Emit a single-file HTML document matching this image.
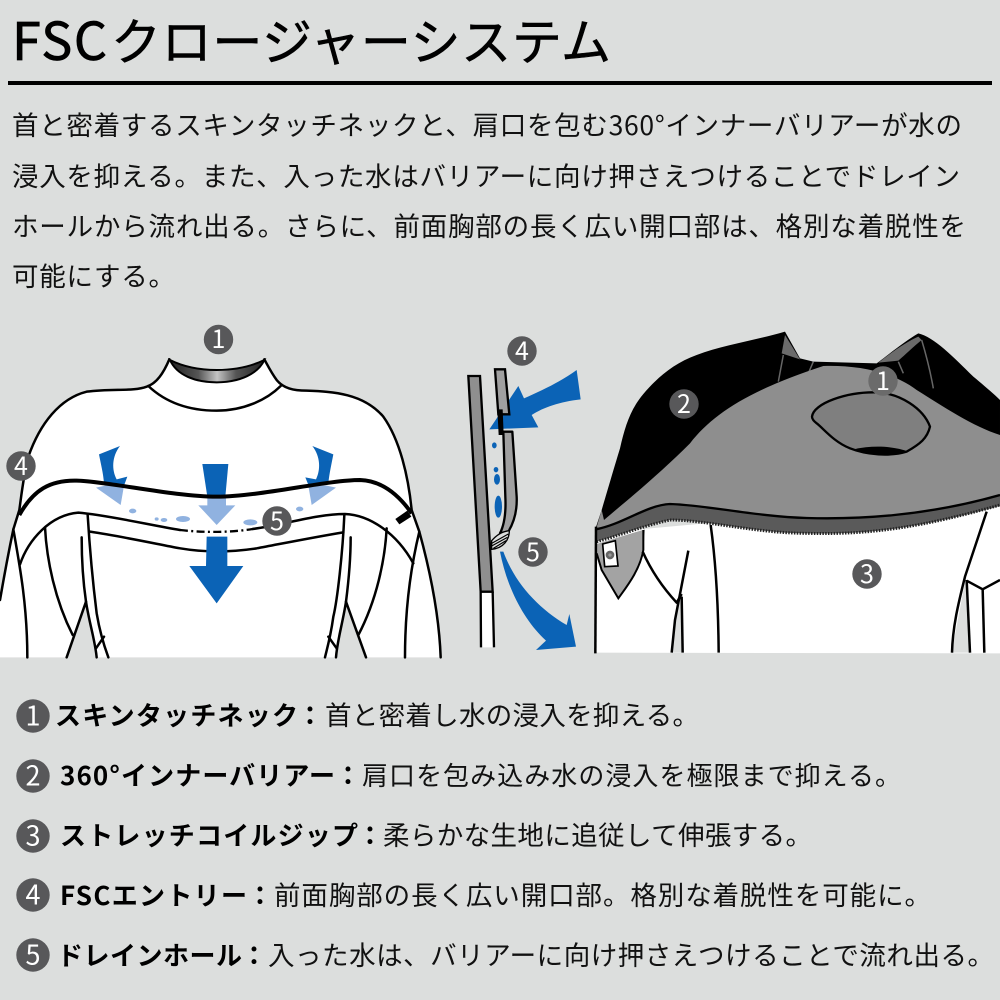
<!DOCTYPE html>
<html lang="ja">
<head>
<meta charset="utf-8">
<title>FSCクロージャーシステム</title>
<style>
html,body{margin:0;padding:0;background:#dcdedd}
svg{display:block}
text{font-family:"Liberation Sans","Noto Sans CJK JP",sans-serif;fill:#111}
.j{font-family:"Noto Sans CJK JP","Liberation Sans",sans-serif}
.b{font-weight:700;fill:#000}
.n{font-family:"Noto Sans CJK JP","Liberation Sans",sans-serif;fill:#fff;text-anchor:middle;font-size:25px}
</style>
</head>
<body>
<svg width="1000" height="1000" viewBox="0 0 1000 1000" xmlns="http://www.w3.org/2000/svg">
<defs>
<linearGradient id="ng" x1="0" x2="1" y1="0" y2="0">
<stop offset="0" stop-color="#222"/><stop offset=".3" stop-color="#555"/><stop offset=".5" stop-color="#c4c4c4"/><stop offset=".7" stop-color="#555"/><stop offset="1" stop-color="#222"/>
</linearGradient>
</defs>
<rect width="1000" height="1000" fill="#dcdedd"/>

<!-- Title -->
<text class="j" x="12" y="60" font-size="52" textLength="95" lengthAdjust="spacing" style="fill:#000;stroke:#000;stroke-width:.8">FSC</text>
<text class="j" x="111" y="60" font-size="50" textLength="500" lengthAdjust="spacing" style="fill:#000;stroke:#000;stroke-width:.6">クロージャーシステム</text>
<rect x="8" y="81" width="984" height="4" fill="#000"/>

<!-- Body -->
<g class="j" font-size="26.5">
<text class="j" x="12" y="135" textLength="950" lengthAdjust="spacing">首と密着するスキンタッチネックと、肩口を包む360°インナーバリアーが水の</text>
<text class="j" x="12" y="186" textLength="948" lengthAdjust="spacing">浸入を抑える。また、入った水はバリアーに向け押さえつけることでドレイン</text>
<text class="j" x="12" y="236" textLength="954" lengthAdjust="spacing">ホールから流れ出る。さらに、前面胸部の長く広い開口部は、格別な着脱性を</text>
<text class="j" x="12" y="286" textLength="163" lengthAdjust="spacing">可能にする。</text>
</g>

<!-- Left figure -->
<g transform="translate(0,320) scale(.33333)">
<path fill="#fff" d="M508,118 C490,160 470,190 440,200 C400,215 340,205 260,215 C180,235 120,310 85,410 C70,470 65,520 58,570 L40,628 L0,840 L0,1012 L200,1012 L258,845 L290,1012 L1008,1012 L1038,845 L1098,1012 L1322,1012 C1318,900 1295,770 1258,635 L1235,570 C1225,470 1200,360 1150,290 C1090,220 1000,215 920,212 C880,212 850,205 830,180 C815,160 805,140 793,118 C700,170 600,170 508,118 Z"/>
<path fill="url(#ng)" stroke="#000" stroke-width="6" d="M510,120 C590,160 710,160 793,120 C775,160 720,187 650,187 C585,187 530,165 510,120 Z"/>
<g fill="none" stroke="#000" stroke-width="7.5" stroke-linecap="round" stroke-linejoin="round">
<path d="M508,118 C490,160 470,190 440,200 C400,215 340,205 260,215 C180,235 120,310 85,410 C70,470 65,520 58,570 L40,628 C25,700 12,770 0,840"/>
<path d="M793,118 C805,140 815,160 830,180 C850,205 880,212 920,212 C1000,215 1090,220 1150,290 C1200,360 1225,470 1235,570 L1258,635 C1295,770 1318,900 1322,1012"/>
<path d="M445,198 C500,250 570,272 650,272 C730,272 800,240 842,198"/>
<path d="M40,628 C60,740 82,860 82,1012"/>
<path d="M1258,635 C1235,730 1215,850 1215,1012"/>
<path d="M60,733 C85,660 150,585 235,578 C320,585 450,615 540,630"/>
<path d="M758,627 C850,615 950,582 1035,582 C1110,585 1190,640 1240,730"/>
<path d="M270,635 C370,650 470,672 540,685 C610,697 690,697 770,685 C860,668 950,650 1030,637"/>
<path d="M263,585 C270,700 280,800 290,880 C300,940 315,985 325,1012"/>
<path d="M245,652 C245,730 250,790 258,845 C268,910 285,960 290,1012"/>
<path d="M288,985 L312,950"/>
<path d="M1033,585 C1028,700 1012,840 1000,890 C992,950 980,990 975,1012"/>
<path d="M1052,652 C1052,730 1045,790 1038,845 C1028,910 1012,960 1008,1012"/>
<path d="M985,950 L1010,985"/>
<path d="M135,622 C140,720 165,840 218,945"/>
<path d="M1160,625 C1155,720 1130,840 1075,945"/>
<path d="M258,845 L200,1012"/>
<path d="M1038,845 L1098,1012"/>
</g>
<path fill="none" stroke="#000" stroke-width="7" stroke-dasharray="24 10 6 10" d="M540,630 C610,638 690,638 758,627"/>
<!-- arrows dark -->
<path fill="#0b63b6" d="M607,432 L685,432 L676,530 L622,530 Z"/>
<path fill="#0b63b6" d="M620,650 L682,650 L682,738 L730,738 L650,850 L568,738 L618,738 Z"/>
<path fill="#0b63b6" d="M297,403 L360,378 C335,410 335,450 350,478 L382,470 L372,497 L312,490 C310,460 302,430 297,403 Z"/>
<path fill="#0b63b6" d="M1000,403 L937,378 C962,410 962,450 948,478 L916,472 L926,497 L985,490 C988,460 995,430 1000,403 Z"/>
<!-- arrows light -->
<path fill="#90b2e0" d="M622,530 L678,530 L678,556 L706,556 L650,615 L595,556 L622,556 Z"/>
<path fill="#90b2e0" d="M288,503 L316,497 L372,497 L362,555 Z"/>
<path fill="#90b2e0" d="M1008,503 L980,497 L925,497 L935,555 Z"/>
<g fill="#90b2e0">
<ellipse cx="398" cy="573" rx="11" ry="7"/><ellipse cx="470" cy="597" rx="6" ry="5"/><ellipse cx="492" cy="600" rx="10" ry="6"/><ellipse cx="549" cy="597" rx="21" ry="9"/><ellipse cx="751" cy="607" rx="21" ry="9"/><ellipse cx="899" cy="567" rx="11" ry="7"/>
</g>
<!-- zip line -->
<path fill="none" stroke="#000" stroke-width="12" d="M58,585 C100,510 150,480 230,482 C330,485 520,530 650,530 C780,530 980,480 1080,480 C1150,482 1200,530 1235,580"/>
<path fill="#000" d="M1186,597 L1222,572 L1234,590 L1198,613 Z"/>
</g>

<!-- Middle figure -->
<g transform="translate(450,320) scale(.33333)">
<path fill="#8f8f8f" stroke="#000" stroke-width="7" d="M55,168 L90,168 L128,815 L92,815 Z"/>
<path fill="#fff" d="M95,818 H126 L129,982 H96 Z"/>
<path fill="none" stroke="#000" stroke-width="7" d="M92,815 H128 M92,815 L93,982 M128,815 L132,982"/>
<path fill="#0b63b6" d="M380,150 L392,238 C330,245 280,262 245,285 L265,322 L118,328 L205,198 L222,235 C280,210 340,180 380,150 Z"/>
<path fill="#a0a0a0" stroke="#000" stroke-width="7" d="M135,148 L165,148 L178,283 L145,283 Z"/>
<path fill="#a0a0a0" stroke="#000" stroke-width="7" stroke-linejoin="round" d="M160,335 L187,335 L200,530 C202,575 190,610 175,635 L150,640 C165,610 168,570 166,530 Z"/>
<path fill="#000" d="M142,268 L158,268 L161,345 L146,345 Z"/>
<path fill="#dcdedd" stroke="#000" stroke-width="4" d="M125,662 C140,645 155,635 178,632 C178,660 160,685 125,688 Z"/>
<path fill="none" stroke="#000" stroke-width="3.5" d="M125,670 L175,642 M125,678 L172,652 M130,685 L168,662"/>
<g fill="#0b63b6">
<ellipse cx="133" cy="376" rx="7" ry="9"/><ellipse cx="138" cy="449" rx="7" ry="8"/><ellipse cx="141" cy="478" rx="9" ry="16"/><ellipse cx="145" cy="560" rx="11" ry="33"/>
<path d="M150,695 L160,695 C195,790 265,865 350,915 L358,882 L378,980 L258,990 L288,962 C220,900 170,800 150,695 Z"/>
</g>
</g>

<!-- Right figure -->
<g transform="translate(590,320) scale(.33333)">
<path fill="#fff" d="M15,640 L1230,530 L1230,1000 L15,998 Z"/>
<path fill="#dcdedd" d="M1128,770 L1085,998 L1138,998 Z"/>
<path fill="#dcdedd" d="M262,848 L245,998 L278,998 L275,830 Z"/>
<path fill="#000" d="M15,630 L35,570 C50,520 70,450 90,385 C105,320 120,270 160,222 C200,175 250,130 320,105 C400,75 500,60 585,35 L630,115 L670,125 L860,130 C900,100 950,60 985,40 C1030,50 1090,110 1150,170 C1180,195 1210,220 1230,240 L1230,345 L600,500 Z"/>
<path fill="#6b6b6b" d="M585,45 L575,100 L630,118 Z"/>
<path fill="#6b6b6b" d="M865,128 C900,100 950,65 985,50 L995,60 C970,80 945,105 925,122 Z"/>
<path fill="none" stroke="#666" stroke-width="4.5" d="M580,105 L565,185 M670,125 L655,160 M995,60 C1010,110 1022,160 1030,205 M925,125 L940,160"/>
<path fill="#8e8e8e" d="M35,570 L42,600 C100,550 200,470 300,370 C370,280 480,210 700,138 C790,135 900,150 980,210 C1060,260 1150,320 1230,345 L1230,525 C1000,590 800,598 650,594 C500,590 350,555 240,552 C170,555 100,610 18,628 Z"/>
<path fill="#5a5a5a" d="M18,628 C100,612 170,555 240,552 C350,555 500,590 650,594 C800,598 1000,590 1230,525 L1230,558 C1000,620 850,645 650,640 C500,640 350,600 240,600 C150,620 80,650 18,665 Z"/>
<path fill="none" stroke="#000" stroke-width="7" d="M18,628 C100,612 170,555 240,552 C350,555 500,590 650,594 C800,598 1000,590 1230,525"/>
<path fill="none" stroke="#222" stroke-width="9" stroke-dasharray="4.5 4" d="M20,665 C80,650 150,620 240,600 C350,600 500,640 650,640 C850,645 1000,620 1230,555"/>
<!-- neck hole -->
<path fill="#7f7f7f" stroke="#000" stroke-width="7" stroke-linejoin="round" d="M666,290 C670,250 770,215 860,217 C930,220 1000,265 1020,320 C1012,355 990,372 950,395 C900,410 830,405 780,385 C730,365 700,325 680,310 C672,303 666,298 666,290 Z"/>
<path fill="#000" d="M790,388 C850,375 910,378 955,395 C900,410 830,405 790,388 Z"/>
<!-- flap -->
<path fill="#a3a3a3" stroke="none" d="M20,672 L165,628 L160,690 C150,750 110,800 85,835 L35,750 L20,700 Z"/>
<path fill="none" stroke="#000" stroke-width="6" d="M160,630 L160,690 C150,750 110,800 85,835 L35,750 L20,700"/>
<path fill="#fff" stroke="#000" stroke-width="5" d="M38,672 L76,662 L84,738 L44,740 Z"/>
<circle cx="60" cy="705" r="13" fill="#666"/><circle cx="60" cy="705" r="5" fill="#999"/>
<g fill="none" stroke="#000" stroke-width="7.5" stroke-linejoin="round">
<path d="M18,620 L16,1000"/>
<path d="M158,695 C185,755 220,805 260,848 L275,822"/>
<path d="M295,692 C280,770 265,850 255,900 L245,998"/>
<path d="M275,830 L278,998"/>
<path d="M362,615 C378,730 385,870 386,998"/>
<path d="M1190,575 C1165,650 1145,710 1125,770 C1105,850 1088,920 1086,998"/>
<path d="M1130,780 L1140,998"/>
<path d="M1130,782 L1178,808 L1230,780"/>
<path d="M1178,808 L1183,998"/>
</g>
</g>

<!-- Diagram callouts -->
<g>
<circle cx="218.5" cy="339.5" r="14.7" fill="#58585a"/><text class="n" x="218.5" y="348">1</text>
<circle cx="21" cy="466" r="14.7" fill="#58585a"/><text class="n" x="21" y="475">4</text>
<circle cx="277" cy="521" r="14.7" fill="#58585a"/><text class="n" x="277" y="530">5</text>
<circle cx="522" cy="351" r="14.7" fill="#58585a"/><text class="n" x="522" y="360">4</text>
<circle cx="533" cy="552" r="14.7" fill="#58585a"/><text class="n" x="533" y="561">5</text>
<circle cx="883" cy="381" r="14.7" fill="#6b6b6b"/><text class="n" x="883" y="390">1</text>
<circle cx="684" cy="404" r="14.7" fill="#58585a"/><text class="n" x="684" y="413">2</text>
<circle cx="867" cy="574" r="14.7" fill="#58585a"/><text class="n" x="867" y="583">3</text>
</g>

<!-- List -->
<g>
<circle cx="33" cy="716" r="16.7" fill="#58585a"/><text class="n" x="33" y="725.5" style="font-size:27px">1</text>
<circle cx="33" cy="776" r="16.7" fill="#58585a"/><text class="n" x="33" y="785.5" style="font-size:27px">2</text>
<circle cx="33" cy="836" r="16.7" fill="#58585a"/><text class="n" x="33" y="845.5" style="font-size:27px">3</text>
<circle cx="33" cy="895" r="16.7" fill="#58585a"/><text class="n" x="33" y="904.5" style="font-size:27px">4</text>
<circle cx="33" cy="955" r="16.7" fill="#58585a"/><text class="n" x="33" y="964.5" style="font-size:27px">5</text>

<text class="j b" x="55" y="725" font-size="26" textLength="243" lengthAdjust="spacing">スキンタッチネック</text>
<text class="j b" x="297" y="725" font-size="26">：</text>
<text class="j" x="325" y="725" font-size="26.5" textLength="374" lengthAdjust="spacing">首と密着し水の浸入を抑える。</text>

<text class="j b" x="60" y="785" font-size="26" textLength="275" lengthAdjust="spacing">360°インナーバリアー</text>
<text class="j b" x="335" y="785" font-size="26">：</text>
<text class="j" x="362" y="785" font-size="26" textLength="539" lengthAdjust="spacing">肩口を包み込み水の浸入を極限まで抑える。</text>

<text class="j b" x="60" y="845" font-size="26" textLength="298" lengthAdjust="spacing">ストレッチコイルジップ</text>
<text class="j b" x="357" y="845" font-size="26">：</text>
<text class="j" x="383" y="845" font-size="26.5" textLength="429" lengthAdjust="spacing">柔らかな生地に追従して伸張する。</text>

<text class="j b" x="60" y="905" font-size="26" textLength="187" lengthAdjust="spacing">FSCエントリー</text>
<text class="j b" x="247" y="905" font-size="26">：</text>
<text class="j" x="274" y="905" font-size="26.5" textLength="657" lengthAdjust="spacing">前面胸部の長く広い開口部。格別な着脱性を可能に。</text>

<text class="j b" x="57" y="965" font-size="26" textLength="185" lengthAdjust="spacing">ドレインホール</text>
<text class="j b" x="241" y="965" font-size="26">：</text>
<text class="j" x="268" y="965" font-size="26.5" textLength="726" lengthAdjust="spacing">入った水は、バリアーに向け押さえつけることで流れ出る。</text>
</g>
</svg>
</body>
</html>
